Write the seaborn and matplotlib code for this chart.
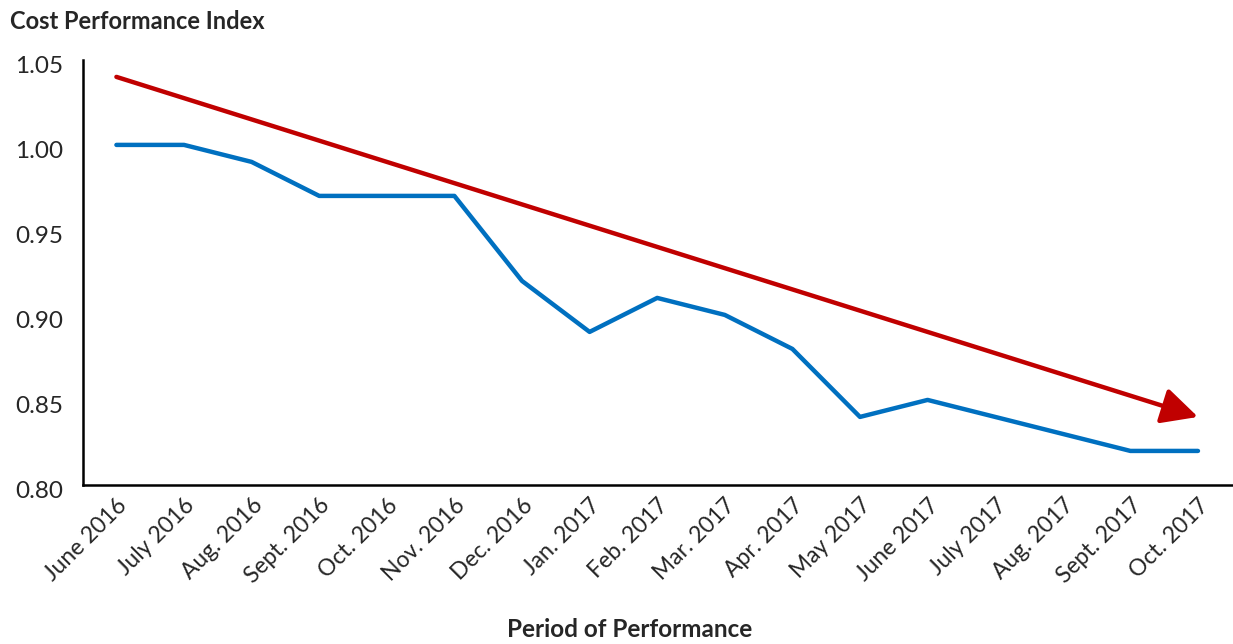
import matplotlib
matplotlib.use("Agg")
import matplotlib.pyplot as plt
import matplotlib.transforms as mtransforms
import seaborn as sns
import pandas as pd

months = ["June 2016", "July 2016", "Aug. 2016", "Sept. 2016", "Oct. 2016", "Nov. 2016",
          "Dec. 2016", "Jan. 2017", "Feb. 2017", "Mar. 2017", "Apr. 2017", "May 2017",
          "June 2017", "July 2017", "Aug. 2017", "Sept. 2017", "Oct. 2017"]
cpi = [1.00, 1.00, 0.99, 0.97, 0.97, 0.97, 0.92, 0.89, 0.91, 0.90, 0.88, 0.84,
       0.85, 0.84, 0.83, 0.82, 0.82]
trend_start = 1.04
trend_end = 0.84
yticks = [0.80, 0.85, 0.90, 0.95, 1.00, 1.05]

sns.set_style("white")
plt.rcParams['font.family'] = ['Lato', 'DejaVu Sans']

df = pd.DataFrame({"idx": range(len(months)), "cpi": cpi})

fig = plt.figure(figsize=(12.33, 6.44), dpi=100)
ax = fig.add_axes([0.067, 0.247, 0.932, 0.660])
sns.lineplot(data=df, x="idx", y="cpi", ax=ax, color="#0070C0", linewidth=3.2)

ax.annotate("", xy=(len(months) - 1, trend_end), xytext=(0, trend_start),
            arrowprops=dict(arrowstyle="-|>,head_length=2.2,head_width=1.1",
                            color="#C00000", lw=3.2, shrinkA=0, shrinkB=0))

ax.set_xlim(-0.5, len(months) - 0.5)
ax.set_ylim(0.80, 1.05)
ax.set_xticks(range(len(months)))
ax.set_xticklabels(months, rotation=45, ha="right", rotation_mode="anchor", fontsize=16.5)
ax.set_yticks(yticks)
ax.set_yticklabels([f"{v:.2f}" for v in yticks], fontsize=17.5)
ax.tick_params(axis="y", length=0, pad=14)
ax.tick_params(axis="x", length=0, pad=7)
offset = mtransforms.ScaledTranslation(0, -5 / 100, fig.dpi_scale_trans)
for lab in ax.get_yticklabels():
    lab.set_transform(lab.get_transform() + offset)
sns.despine(ax=ax)
for s in ["left", "bottom"]:
    ax.spines[s].set_color("black")
    ax.spines[s].set_linewidth(1.8)
ax.set_xlabel("")
ax.set_ylabel("")

fig.text(0.008, 0.967, "Cost Performance Index", fontsize=17, fontweight="bold", va="center", ha="left")
fig.text(0.511, 0.022, "Period of Performance", fontsize=17.5, fontweight="bold", va="center", ha="center")

fig.savefig("out.png", dpi=100)
